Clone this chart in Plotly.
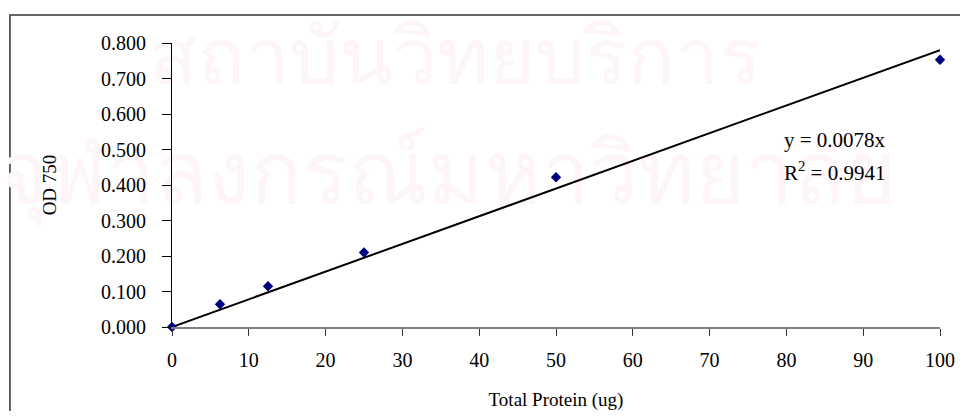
import plotly.graph_objects as go

# standard curve data
protein = [0, 6.25, 12.5, 25, 50, 100]
od750 = [0.0, 0.064, 0.115, 0.210, 0.422, 0.753]

slope = 0.0078
fit_x = [0, 100]
fit_y = [slope * v for v in fit_x]

y_ticks = [0, 0.1, 0.2, 0.3, 0.4, 0.5, 0.6, 0.7, 0.8]
x_ticks = [0, 10, 20, 30, 40, 50, 60, 70, 80, 90, 100]

watermark = ["สถาบันวิทยบริการ", "จุฬาลงกรณ์มหาวิทยาลัย"]
watermark_x = [36.8, 35.8]
watermark_y = [0.74, 0.41]

serif = "Liberation Serif, Times New Roman, serif"

fig = go.Figure()

# faint watermark behind everything
fig.add_trace(go.Scatter(x=watermark_x, y=watermark_y, mode="text",
                         text=watermark, textposition="middle center",
                         textfont=dict(size=[79, 86], color="#fdf5f8"),
                         cliponaxis=False, hoverinfo="skip",
                         showlegend=False))

fig.add_trace(go.Scatter(x=fit_x, y=fit_y, mode="lines",
                         line=dict(color="black", width=2),
                         hoverinfo="skip", showlegend=False))
fig.add_trace(go.Scatter(x=protein, y=od750, mode="markers",
                         marker=dict(symbol="diamond", size=8,
                                     color="#000080"),
                         cliponaxis=False, showlegend=False))

fig.add_annotation(text="y = 0.0078x", xref="paper", yref="paper",
                   x=0.794, y=0.66, xanchor="left", yanchor="middle",
                   showarrow=False,
                   font=dict(family=serif, size=21, color="black"))
fig.add_annotation(text="R<sup>2</sup> = 0.9941", xref="paper", yref="paper",
                   x=0.794, y=0.548, xanchor="left", yanchor="middle",
                   showarrow=False,
                   font=dict(family=serif, size=21, color="black"))

# outer chart frame
fig.add_shape(type="rect", xref="paper", yref="paper",
              x0=-0.211, x1=1.06, y0=-0.4, y1=1.099,
              line=dict(color="#333333", width=1.5), layer="below")

# page body keeps an 8px margin, so the figure is sized to fit inside it
fig.update_layout(
    width=952, height=403,
    margin=dict(l=164, r=20, t=35, b=84, autoexpand=False),
    paper_bgcolor="white", plot_bgcolor="rgba(0,0,0,0)",
    font=dict(family=serif, size=18, color="black"),
    xaxis=dict(range=[0, 100], tickvals=x_ticks, showgrid=False,
               zeroline=False, showline=True, linecolor="#808080",
               linewidth=2, ticks="outside", ticklen=7, tickcolor="#333333",
               tickfont=dict(size=20), ticklabelstandoff=7,
               automargin=False,
               title=dict(text="Total Protein (ug)", font=dict(size=19),
                          standoff=26)),
    yaxis=dict(range=[0, 0.8], tickvals=y_ticks, tickformat=".3f",
               showgrid=False, zeroline=False, showline=True,
               linecolor="black", linewidth=1, ticks="outside", ticklen=9,
               tickcolor="black", tickfont=dict(size=20),
               ticklabelstandoff=12, automargin=False,
               title=dict(text="OD 750", font=dict(size=19), standoff=39)),
)

fig.write_html("out.html")
